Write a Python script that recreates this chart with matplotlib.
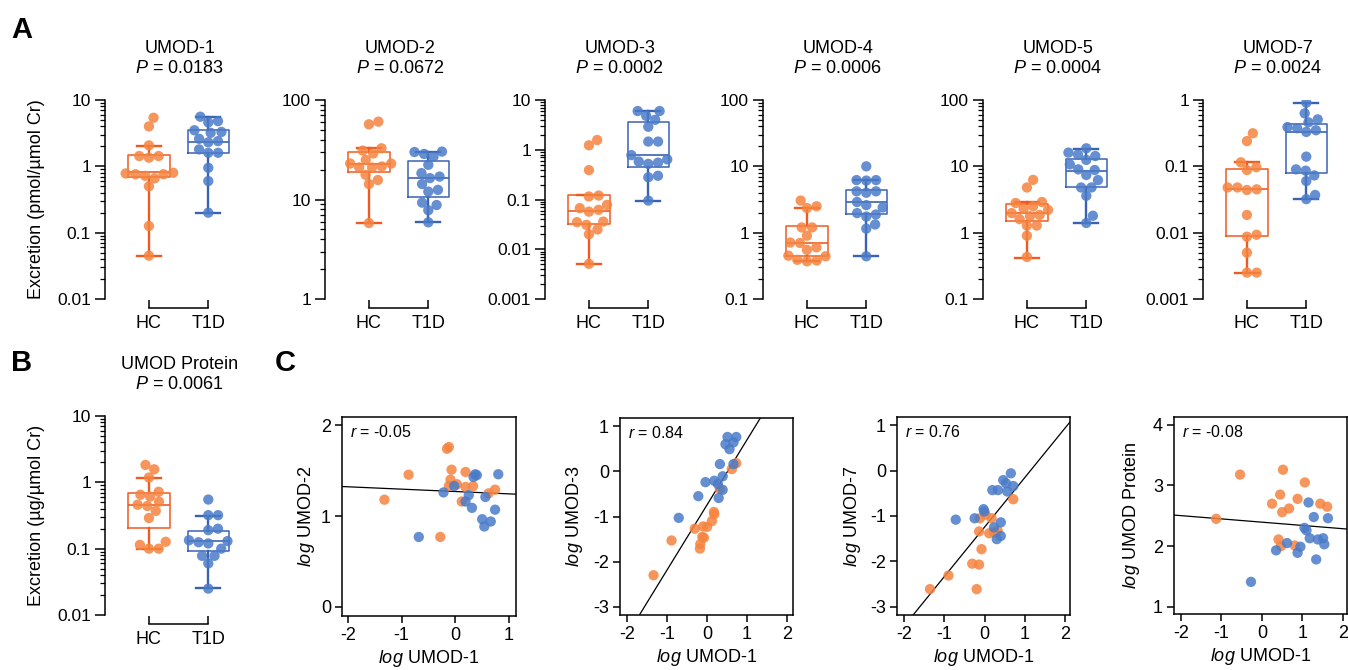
import numpy as np
import matplotlib
matplotlib.use("Agg")
import matplotlib.pyplot as plt
import matplotlib.transforms as mtrans
from matplotlib.ticker import LogLocator, FuncFormatter, NullFormatter

plt.rcParams["font.family"] = ["Liberation Sans", "DejaVu Sans"]
plt.rcParams["mathtext.fontset"] = "custom"
plt.rcParams["mathtext.rm"] = "Liberation Sans"
plt.rcParams["mathtext.it"] = "Liberation Sans:italic"
plt.rcParams["axes.unicode_minus"] = False

# ---- panel A / B : excretion per group ----
titles = ["UMOD-1", "UMOD-2", "UMOD-3", "UMOD-4", "UMOD-5", "UMOD-7"]
pvals = ["0.0183", "0.0672", "0.0002", "0.0006", "0.0004", "0.0024"]
ylims = [(0.01, 10), (1, 100), (0.001, 10), (0.1, 100), (0.1, 100), (0.001, 1)]

hc_umod1 = [5.4, 4.0, 2.07, 1.43, 1.43, 1.35, 0.80, 0.76, 0.76, 0.78, 0.72, 0.66, 0.50, 0.126, 0.045]
t1d_umod1 = [5.6, 4.8, 4.6, 3.5, 3.3, 3.2, 2.6, 2.4, 2.3, 1.8, 1.6, 1.6, 0.95, 0.6, 0.2]
hc_umod2 = [60.6, 57, 32.7, 31, 29, 25, 23, 23, 21.5, 21, 21, 17.7, 15.7, 14.3, 5.8]
t1d_umod2 = [30.3, 30, 28.7, 27, 22.3, 18.4, 17, 16.4, 14.3, 12.5, 12, 9.3, 8.8, 7.8, 5.9]
hc_umod3 = [1.57, 1.23, 0.39, 0.12, 0.115, 0.078, 0.067, 0.062, 0.057, 0.036, 0.035, 0.031, 0.025, 0.02, 0.0051]
t1d_umod3 = [6.0, 6.0, 4.8, 4.0, 2.9, 1.46, 1.46, 0.78, 0.64, 0.58, 0.55, 0.52, 0.3, 0.28, 0.095]
hc_umod4 = [3.05, 2.5, 2.35, 1.2, 1.2, 0.9, 0.70, 0.71, 0.6, 0.55, 0.45, 0.44, 0.39, 0.37, 0.38]
t1d_umod4 = [10.0, 6.1, 6.2, 6.2, 4.2, 4.2, 4.0, 2.9, 2.4, 2.6, 1.88, 1.97, 1.75, 1.33, 1.15, 0.44]
hc_umod5 = [6.25, 4.8, 2.9, 2.8, 2.5, 2.3, 2.2, 1.97, 1.85, 1.77, 1.6, 1.28, 1.28, 0.9, 0.43]
t1d_umod5 = [18.7, 16.1, 15, 14.3, 12.5, 10.7, 9.0, 8.8, 7.4, 6.2, 4.8, 4.8, 3.6, 1.8, 1.4]
hc_umod7 = [0.315, 0.24, 0.115, 0.097, 0.088, 0.048, 0.044, 0.045, 0.048, 0.0185, 0.0093, 0.0087, 0.005, 0.0025, 0.0025]
t1d_umod7 = [0.91, 0.63, 0.51, 0.46, 0.39, 0.35, 0.33, 0.375, 0.14, 0.086, 0.09, 0.073, 0.06, 0.037, 0.032]
hc_protein = [1.83, 1.57, 1.18, 0.72, 0.65, 0.61, 0.51, 0.46, 0.44, 0.37, 0.29, 0.127, 0.114, 0.10, 0.10]
t1d_protein = [0.55, 0.32, 0.32, 0.2, 0.19, 0.134, 0.13, 0.125, 0.12, 0.1, 0.078, 0.078, 0.06, 0.025]

# box stats as drawn: (whisker low, Q1, median, Q3, whisker high)
hc_boxes = [(0.045, 0.69, 0.82, 1.50, 2.02), (5.85, 18.8, 22.8, 30, 32.7),
            (0.0051, 0.0325, 0.06, 0.122, 0.122), (0.37, 0.45, 0.71, 1.24, 2.34),
            (0.42, 1.48, 1.97, 2.69, 2.94), (0.0025, 0.009, 0.0457, 0.0915, 0.118)]
t1d_boxes = [(0.2, 1.6, 2.32, 3.47, 5.5), (5.9, 10.6, 16.3, 24.6, 30.3),
             (0.095, 0.46, 0.775, 3.62, 6.0), (0.44, 1.90, 2.88, 4.42, 6.2),
             (1.39, 4.84, 8.63, 12.9, 18.3), (0.032, 0.078, 0.326, 0.43, 0.91)]
hc_box_protein = (0.099, 0.207, 0.455, 0.68, 1.18)
t1d_box_protein = (0.0255, 0.092, 0.129, 0.187, 0.31)

hc_sets = [hc_umod1, hc_umod2, hc_umod3, hc_umod4, hc_umod5, hc_umod7]
t1d_sets = [t1d_umod1, t1d_umod2, t1d_umod3, t1d_umod4, t1d_umod5, t1d_umod7]

# ---- panel C : log-log correlations ----
c_ylabels = ["UMOD-2", "UMOD-3", "UMOD-7", "UMOD Protein"]
c_r = ["-0.05", "0.84", "0.76", "-0.08"]
c_fit = [(-0.026, 1.27), (1.44, -0.74), (1.09, -1.24), (-0.054, 2.395)]

c1_hc_x = [-0.12, -0.155, -0.87, -0.07, 0.19, -0.09, 0.03, -0.12, 0.19, 0.33, 0.62, 0.74, -1.32, 0.12, -0.28]
c1_hc_y = [1.76, 1.74, 1.455, 1.51, 1.485, 1.40, 1.35, 1.33, 1.32, 1.33, 1.25, 1.29, 1.18, 1.16, 0.77]
c1_t1d_x = [0.37, 0.40, 0.34, -0.02, -0.22, 0.25, 0.19, 0.56, 0.31, 0.80, 0.50, 0.66, 0.54, -0.68, 0.74]
c1_t1d_y = [1.46, 1.45, 1.43, 1.33, 1.26, 1.23, 1.16, 1.21, 1.09, 1.46, 0.965, 0.94, 0.885, 0.77, 1.07]

c2_hc_x = [-1.34, -0.89, -0.31, -0.10, 0.0, -0.12, -0.08, -0.17, -0.18, 0.12, 0.17, 0.18, 0.32, 0.62, 0.73]
c2_hc_y = [-2.30, -1.53, -1.27, -1.22, -1.23, -1.45, -1.47, -1.61, -1.71, -1.10, -0.90, -0.95, -0.39, 0.05, 0.18]
c2_t1d_x = [-0.71, -0.22, -0.04, 0.18, 0.27, 0.29, 0.39, 0.39, 0.32, 0.66, 0.46, 0.56, 0.51, 0.66, 0.73]
c2_t1d_y = [-1.03, -0.55, -0.24, -0.21, -0.28, -0.59, -0.41, -0.11, 0.16, 0.16, 0.60, 0.49, 0.76, 0.64, 0.76]

c3_hc_x = [-1.36, -0.90, -0.31, -0.14, -0.20, -0.08, -0.14, -0.12, 0.02, 0.17, 0.11, 0.23, 0.32, 0.71]
c3_hc_y = [-2.61, -2.31, -2.05, -2.07, -2.61, -1.73, -1.34, -1.05, -0.97, -1.05, -1.38, -1.36, -1.32, -0.63]
c3_t1d_x = [-0.72, -0.25, -0.03, -0.01, 0.19, 0.33, 0.23, 0.40, 0.30, 0.40, 0.46, 0.53, 0.65, 0.71, 0.56]
c3_t1d_y = [-1.08, -1.05, -0.85, -0.90, -0.43, -0.43, -1.25, -1.14, -1.51, -1.44, -0.21, -0.28, -0.06, -0.34, -0.46]

c4_hc_x = [-1.13, -0.54, 0.52, 1.06, 0.45, 0.25, 0.88, 0.50, 0.67, 1.44, 1.61, 0.41, 0.47, 0.81]
c4_hc_y = [2.45, 3.18, 3.26, 3.05, 2.85, 2.70, 2.78, 2.56, 2.62, 2.70, 2.65, 2.11, 2.00, 2.01]
c4_t1d_x = [-0.27, 0.35, 0.62, 0.88, 0.95, 1.05, 1.10, 1.18, 1.15, 1.28, 1.38, 1.51, 1.54, 1.34, 1.63]
c4_t1d_y = [1.41, 1.93, 2.05, 1.89, 1.99, 2.30, 2.26, 2.13, 2.72, 2.48, 2.11, 2.13, 2.03, 1.78, 2.46]

c_hc = [(c1_hc_x, c1_hc_y), (c2_hc_x, c2_hc_y), (c3_hc_x, c3_hc_y), (c4_hc_x, c4_hc_y)]
c_t1d = [(c1_t1d_x, c1_t1d_y), (c2_t1d_x, c2_t1d_y), (c3_t1d_x, c3_t1d_y), (c4_t1d_x, c4_t1d_y)]

ORANGE_PT, ORANGE_LN = "#F5843F", "#F05A22"
BLUE_PT, BLUE_LN = "#4A7BC8", "#3A62B2"
PT_SIZE = 55

W, H = 1348, 670
fig = plt.figure(figsize=(W / 100, H / 100), dpi=100)


def rect(l, t, r, b):
    return [l / W, 1 - b / H, (r - l) / W, (b - t) / H]


def swarm(ax, xc, vals, d=9.8):
    # simple beeswarm in pixel space
    pts = ax.transData.transform(np.column_stack([np.full(len(vals), xc), vals]))
    ys = pts[:, 1]
    offs = np.zeros(len(vals))
    placed = []
    for i in np.argsort(ys):
        near = [(px, py) for px, py in placed if abs(py - ys[i]) < d]
        cands = [0.0]
        for px, py in near:
            dx = np.sqrt(d * d - (py - ys[i]) ** 2)
            cands += [px + dx, px - dx]
        cands.sort(key=abs)
        for c in cands:
            if all((c - px) ** 2 + (ys[i] - py) ** 2 >= d * d - 1e-6 for px, py in near):
                offs[i] = c
                break
        placed.append((offs[i], ys[i]))
    return ax.transData.inverted().transform(np.column_stack([pts[:, 0] + offs, ys]))[:, 0]


def box_panel(ax, hc, t1d, hc_box, t1d_box, ylim, name, pval, ylabel=None):
    ax.set_yscale("log")
    ax.set_ylim(ylim)
    ax.set_xlim(-0.74, 1.45)
    for pos, st, col in [(0, hc_box, ORANGE_LN), (1, t1d_box, BLUE_LN)]:
        lo, q1, med, q3, hi = st
        ax.bxp([dict(whislo=lo, q1=q1, med=med, q3=q3, whishi=hi, fliers=[])],
               positions=[pos], widths=0.7, capwidths=0.4, showfliers=False,
               manage_ticks=False,
               boxprops=dict(color=col, lw=1.1), whiskerprops=dict(color=col, lw=1.7),
               capprops=dict(color=col, lw=1.7), medianprops=dict(color=col, lw=1.2))
    for pos, vals, col in [(0, hc, ORANGE_PT), (1, t1d, BLUE_PT)]:
        xs = swarm(ax, pos, vals)
        ax.scatter(xs, vals, s=PT_SIZE, color=col, alpha=0.85, edgecolors="none", zorder=3)

    for sp in ["top", "right"]:
        ax.spines[sp].set_visible(False)
    ax.spines["left"].set_linewidth(1.1)
    ax.spines["bottom"].set_linewidth(1.1)
    ax.spines["bottom"].set_position(("outward", 6.5))
    ax.spines["bottom"].set_bounds(0, 1)
    ax.set_xticks([0, 1])
    ax.set_xticklabels(["HC", "T1D"])
    ax.tick_params(axis="x", direction="in", length=5.8, width=1.1, pad=5, labelsize=13)
    ax.yaxis.set_major_locator(LogLocator(base=10, numticks=10))
    ax.yaxis.set_minor_locator(LogLocator(base=10, subs=np.arange(2, 10) * 1.0, numticks=100))
    ax.yaxis.set_major_formatter(FuncFormatter(lambda v, _: f"{v:g}"))
    ax.yaxis.set_minor_formatter(NullFormatter())
    ax.tick_params(axis="y", which="major", length=7, width=1.1, labelsize=12.5, pad=3)
    ax.tick_params(axis="y", which="minor", length=3.5, width=0.9)

    tr = mtrans.blended_transform_factory(ax.transData, ax.transAxes)
    ax.text(0.52, 1.236, name, ha="center", va="baseline", fontsize=13, transform=tr)
    ax.text(0.52, 1.136, r"$P$ = " + pval, ha="center", va="baseline", fontsize=13, transform=tr)
    if ylabel:
        ax.set_ylabel(ylabel, fontsize=13)
        ax.yaxis.set_label_coords(-0.46, 0.5)


# panel A
spines_x = [105, 325, 545, 763, 983, 1203]
for i, sx in enumerate(spines_x):
    ax = fig.add_axes(rect(sx, 100, sx + 130, 299))
    box_panel(ax, hc_sets[i], t1d_sets[i], hc_boxes[i], t1d_boxes[i], ylims[i],
              titles[i], pvals[i],
              ylabel="Excretion (pmol/\u00b5mol Cr)" if i == 0 else None)

# panel B
axb = fig.add_axes(rect(105, 416, 235, 615))
box_panel(axb, hc_protein, t1d_protein, hc_box_protein, t1d_box_protein, (0.01, 10),
          "UMOD Protein", "0.0061", ylabel="Excretion (\u00b5g/\u00b5mol Cr)")

# panel C
c_frames = [(342, 417, 516, 616), (620, 418, 793, 615), (897, 417, 1070, 615), (1174, 417, 1347, 614)]
c_xlims = [(-2.11, 1.13), (-2.18, 2.15), (-2.18, 2.12), (-2.17, 2.1)]
c_ylims = [(-0.1, 2.09), (-3.18, 1.18), (-3.18, 1.18), (0.88, 4.13)]
c_xticks = [[-2, -1, 0, 1], [-2, -1, 0, 1, 2], [-2, -1, 0, 1, 2], [-2, -1, 0, 1, 2]]
c_yticks = [[0, 1, 2], [-3, -2, -1, 0, 1], [-3, -2, -1, 0, 1], [1, 2, 3, 4]]
c_ylab_x = [-0.145, -0.2, -0.197, -0.185]

for i, (l, t, r, b) in enumerate(c_frames):
    ax = fig.add_axes(rect(l, t, r, b))
    ax.set_xlim(c_xlims[i])
    ax.set_ylim(c_ylims[i])
    slope, icpt = c_fit[i]
    ax.axline((0, icpt), slope=slope, color="black", lw=0.9, zorder=2)
    ax.scatter(c_hc[i][0], c_hc[i][1], s=PT_SIZE, color=ORANGE_PT, alpha=0.85, edgecolors="none", zorder=3)
    ax.scatter(c_t1d[i][0], c_t1d[i][1], s=PT_SIZE, color=BLUE_PT, alpha=0.85, edgecolors="none", zorder=3)
    ax.set_xticks(c_xticks[i])
    ax.set_yticks(c_yticks[i])
    for sp in ax.spines.values():
        sp.set_linewidth(1.1)
    ax.tick_params(direction="out", length=5, width=1.1, labelsize=13, pad=3)
    ax.set_xlabel(r"$\it{log}$ UMOD-1", fontsize=13, labelpad=3)
    ax.set_ylabel(r"$\it{log}$ " + c_ylabels[i], fontsize=13)
    ax.yaxis.set_label_coords(c_ylab_x[i], 0.5)
    ax.text(0.045, 0.90, r"$r$ = " + c_r[i], transform=ax.transAxes, fontsize=11.5,
            ha="left", va="baseline")

# panel letters
for letter, x, y in [("A", 11, 38), ("B", 11, 371), ("C", 275, 371)]:
    fig.text(x / W, 1 - y / H, letter, fontsize=21, fontweight="bold", va="baseline")

fig.savefig("out.png", dpi=100)
